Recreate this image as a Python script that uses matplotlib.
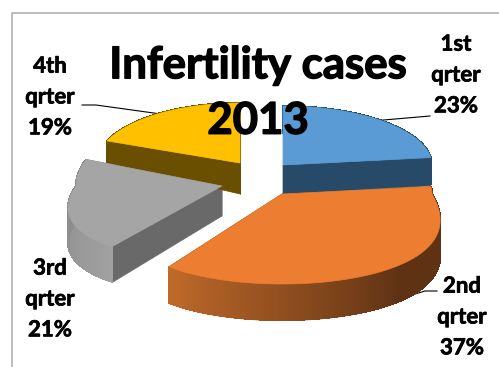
import numpy as np
import matplotlib
matplotlib.use('Agg')
import matplotlib.pyplot as plt
import matplotlib.patheffects as pe
from matplotlib.colors import to_rgb

plt.rcParams['font.family'] = ['Lato', 'DejaVu Sans']

quarters = ['1st', '2nd', '3rd', '4th']
shares = [23, 37, 21, 19]
title = 'Infertility cases\n2013'

# layout of each slice on the canvas (pixels), one entry per quarter
centers = [(283, 165), (282, 194), (222, 186), (240, 163)]
radius_x = [149, 150, 146, 143]
radius_back = [59, 59, 72, 60]
radius_front = [59, 90, 75, 60]
depth_center = [29, 35, 30, 31]
depth_rim = [28, 37, 36, 22]
top_colors = ['#5b9bd5', '#ed7d31', '#a5a5a5', '#ffc000']
side_colors = ['#264a68', '#5f3214', '#696969', '#6a4f00']
wall_start = ['#264a68', '#5f3214', '#a0a0a0', '#6a4f00']
wall_end = ['#264a68', '#bf6a2a', '#828282', '#6a4f00']
label_pos = [(456, 75), (462, 317), (50, 299), (50, 97)]
leaders = [
    [(430, 116), (372, 121)],
    [(437, 291), (425, 291), (362, 310)],
    [],
    [(82, 105), (96, 105), (168, 115)],
]


def rim(theta, i):
    # flattened circle, the front half is drawn larger for the perspective
    c = np.cos(theta)
    s = np.sin(theta)
    grow = 1 + 0.35 * np.clip(-c, 0, None)
    x = centers[i][0] + radius_x[i] * s * grow
    ry = np.where(c > 0, radius_back[i], radius_front[i])
    y = centers[i][1] - ry * c
    return x, y


def draw_slice(ax, i, start, stop):
    cx, cy = centers[i]
    theta = np.linspace(start, stop, 140)
    x, y = rim(theta, i)
    dc = depth_center[i]
    dr = depth_rim[i]

    # flat cut faces
    for k in (0, -1):
        face = [(cx, cy), (x[k], y[k]), (x[k], y[k] + dr), (cx, cy + dc)]
        ax.fill(*zip(*face), color=side_colors[i], lw=0.5, zorder=2 + i * 0.1)

    # solid wall gives the smooth outer edge
    c0 = np.array(to_rgb(wall_start[i]))
    c1 = np.array(to_rgb(wall_end[i]))
    ax.fill(np.r_[x, x[::-1]], np.r_[y, y[::-1] + dr], color=(c0 + c1) / 2, lw=0,
            zorder=2.4 + i * 0.1)

    # shading on top of it in small strips, no antialiasing so no seams
    for j in range(len(theta) - 1):
        t = j / (len(theta) - 2)
        if i == 1:
            t = np.clip((t - 0.45) / 0.55, 0, 1)
        col = c0 + (c1 - c0) * t
        xs = [x[j], x[j + 1], x[j + 1], x[j]]
        ys = [y[j], y[j + 1], y[j + 1] + dr - 1, y[j] + dr - 1]
        ax.fill(xs, ys, color=col, lw=0.8, antialiased=False, zorder=2.5 + i * 0.1)

    # top face
    ax.fill(np.r_[cx, x], np.r_[cy, y], color=top_colors[i], lw=0.5, zorder=3 + i * 0.1)


fig = plt.figure(figsize=(4.99, 3.67), dpi=100)
ax = fig.add_axes([0, 0, 1, 1])
ax.set_xlim(0, 499)
ax.set_ylim(367, 0)
ax.axis('off')

# frame around the chart, only top and left are inside the picture
ax.plot([12.5, 12.5, 499], [367, 13, 13], color='#a9a9a9', lw=1.1, zorder=1)

edges = np.r_[0, np.cumsum(shares)] / sum(shares) * 2 * np.pi
for i in [3, 0, 2, 1]:
    draw_slice(ax, i, edges[i], edges[i + 1])

for i, q in enumerate(quarters):
    ax.text(label_pos[i][0], label_pos[i][1], f'{q}\nqrter\n{shares[i]}%',
            ha='center', va='center', fontsize=16, fontweight='bold',
            linespacing=1.58, color='black', zorder=6,
            path_effects=[pe.withStroke(linewidth=0.5, foreground='black')])
    if leaders[i]:
        ax.plot(*zip(*leaders[i]), color='black', lw=0.8, zorder=1.5)

ax.text(258, 93, title, ha='center', va='center', fontsize=31.5, fontweight='bold',
        linespacing=1.47, color='black', zorder=7,
        path_effects=[pe.withStroke(linewidth=1.0, foreground='black')])

fig.savefig('out.png', dpi=100)
